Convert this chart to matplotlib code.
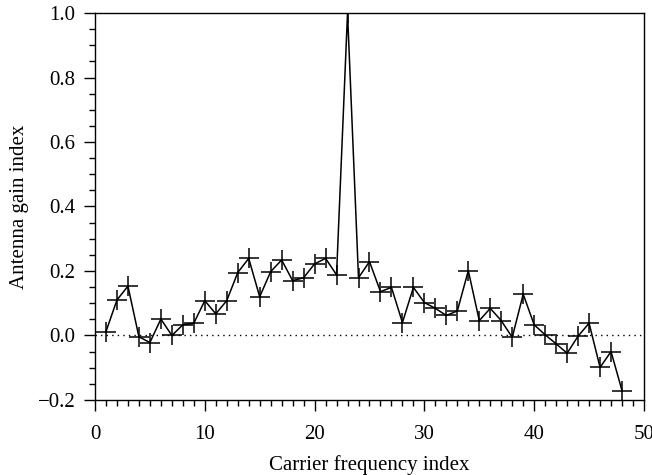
import matplotlib
matplotlib.use("Agg")
from matplotlib import pyplot as plt
from matplotlib.ticker import MultipleLocator

plt.rcParams['font.family'] = ['Liberation Serif', 'DejaVu Serif']
plt.rcParams['axes.unicode_minus'] = True

# carrier index and gain
carrier = list(range(1, 49))
gain = [0.012, 0.11, 0.153, -0.004, -0.022, 0.051, 0.0, 0.033, 0.038, 0.108,
        0.067, 0.108, 0.195, 0.239, 0.12, 0.198, 0.234, 0.17, 0.179, 0.222,
        0.239, 0.188, 1.0, 0.179, 0.229, 0.136, 0.149, 0.04, 0.149, 0.102,
        0.084, 0.062, 0.076, 0.201, 0.046, 0.084, 0.046, -0.006, 0.128, 0.033,
        0.002, -0.026, -0.055, -0.002, 0.038, -0.099, -0.05, -0.171]

fig = plt.figure(figsize=(6.52, 4.75), dpi=100)
ax = fig.add_axes([0.1457, 0.158, 0.842, 0.8146])

ax.axhline(0, color='black', linestyle=(0, (1, 3)), linewidth=1)
ax.plot(carrier, gain, color='black', linewidth=1.1, marker='+',
        markersize=15, markeredgewidth=1.1)

ax.set_xlim(0, 50)
ax.set_ylim(-0.2, 1.0)
ax.xaxis.set_major_locator(MultipleLocator(10))
ax.xaxis.set_minor_locator(MultipleLocator(1))
ax.yaxis.set_major_locator(MultipleLocator(0.2))
ax.yaxis.set_minor_locator(MultipleLocator(0.05))
ax.yaxis.set_major_formatter(lambda v, p: f"{v:.1f}".replace('-', '\u2212'))
ax.tick_params(which='major', length=8, width=1, labelsize=15, direction='out', pad=6)
ax.tick_params(axis='x', which='major', pad=10)
ax.tick_params(which='minor', length=4, width=1, direction='out')
for s in ax.spines.values():
    s.set_linewidth(1)

ax.set_xlabel("Carrier frequency index", fontsize=15, labelpad=8)
ax.set_ylabel("Antenna gain index", fontsize=15, labelpad=6)

fig.savefig("out.png", dpi=100)
